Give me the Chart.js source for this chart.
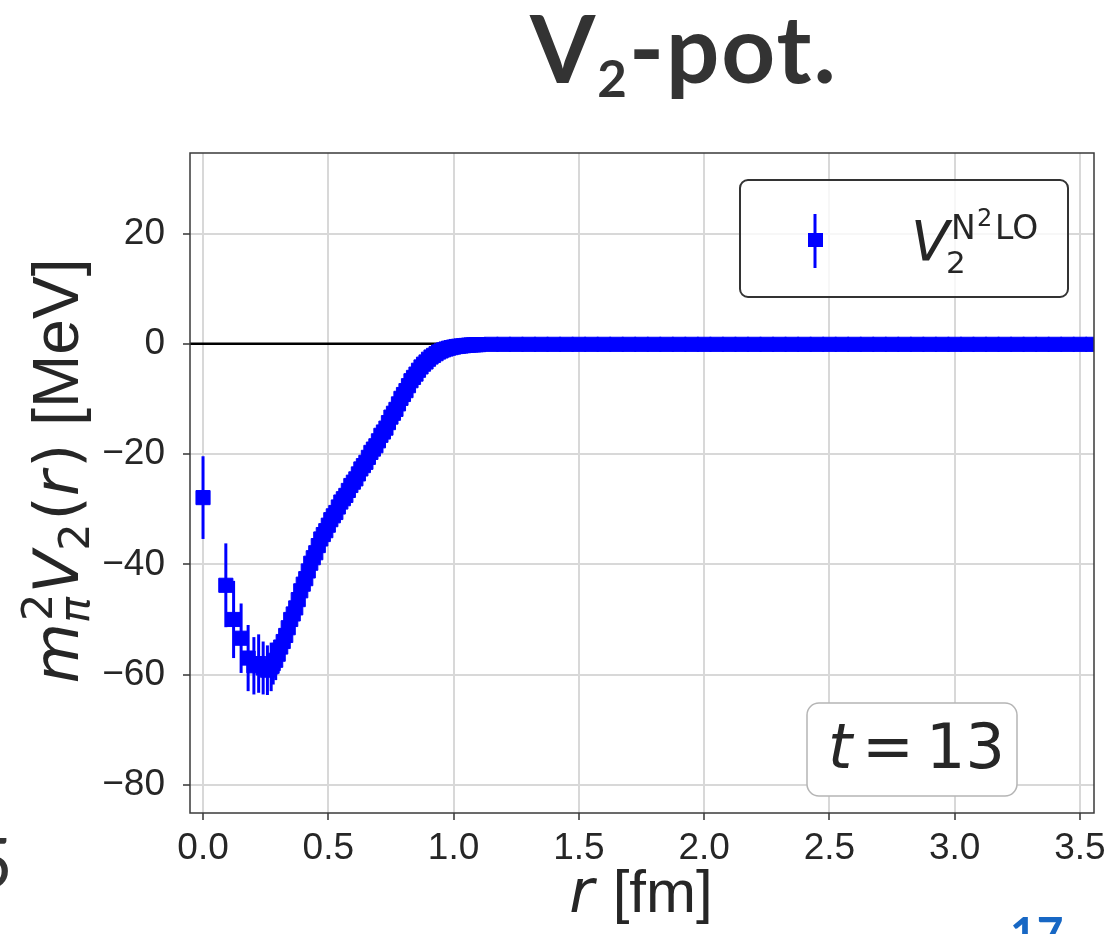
<!DOCTYPE html>
<html>
<head>
<meta charset="utf-8">
<title>V2-pot.</title>
<script src="https://cdn.jsdelivr.net/npm/chart.js@4.4.1/dist/chart.umd.min.js"></script>
<style>
  body { margin: 0; background: #fff; }
  #page { position: relative; width: 1115px; height: 934px; overflow: hidden; }
  #potChart { position: absolute; left: 0; top: 0; }
  #slideTitle { position: absolute; left: 530px; top: 0; font: 700 94px Lato, sans-serif; color: #333; line-height: 1; white-space: nowrap; letter-spacing: 2px; }
  #slideTitle span { font-size: 51px; position: relative; top: 14px; }
  #prevPage { position: absolute; left: -28px; top: 826px; font: 400 70px Lato, sans-serif; color: #333; line-height: 1; }
  #pageNo { position: absolute; left: 1010px; top: 910px; font: 700 46px Lato, sans-serif; color: #1767c4; line-height: 1; }
</style>
</head>
<body>
<div id="page">
  <canvas id="potChart" width="1115" height="934"></canvas>
  <div id="slideTitle">V<span>2</span>-pot.</div>
  <div id="prevPage">5</div>
  <div id="pageNo">17</div>
</div>
<script>
// Axis setup
const xTickValues = [0, 0.5, 1.0, 1.5, 2.0, 2.5, 3.0, 3.5];
const yTickValues = [-80, -60, -40, -20, 0, 20];
const xRange = [-0.052, 3.556];
const yRange = [-85.1, 34.6];

// lattice points near the origin (r [fm], V [MeV], error)
const rNear = [0.000, 0.091, 0.122, 0.152, 0.180, 0.203, 0.222, 0.240, 0.257, 0.272];
const vNear = [-27.9, -43.8, -50.0, -53.4, -57.0, -58.4, -58.0, -58.8, -59.2, -58.6];
const eNear = [7.5, 7.6, 7.0, 6.3, 6.0, 5.2, 5.3, 4.8, 4.5, 4.4];

// dense points along the rising part
const rSlope = [0.28, 0.29, 0.30, 0.31, 0.32, 0.33, 0.34, 0.35, 0.36, 0.37,
    0.38, 0.39, 0.40, 0.41, 0.42, 0.43, 0.44, 0.45, 0.46, 0.47,
    0.48, 0.49, 0.50, 0.51, 0.52, 0.53, 0.54, 0.55, 0.56, 0.57,
    0.58, 0.59, 0.60, 0.61, 0.62, 0.63, 0.64, 0.65, 0.66, 0.67,
    0.68, 0.69, 0.70, 0.71, 0.72, 0.73, 0.74, 0.75, 0.76, 0.77,
    0.78, 0.79, 0.80, 0.81, 0.82, 0.83, 0.84, 0.85, 0.86, 0.87,
    0.88, 0.89, 0.90, 0.91, 0.92, 0.93, 0.94, 0.95, 0.96, 0.97,
    0.98, 0.99, 1.00, 1.01, 1.02, 1.03, 1.04, 1.05, 1.06, 1.07,
    1.08, 1.09, 1.10];
const vSlope = [-58.0, -57.4, -56.3, -55.0, -54.0, -52.9, -51.5, -50.0, -49.0, -47.9,
    -46.4, -44.8, -43.6, -42.6, -41.2, -39.8, -38.8, -37.9, -36.6, -35.4,
    -34.6, -33.9, -32.9, -31.9, -31.2, -30.6, -29.6, -28.7, -28.1, -27.5,
    -26.6, -25.7, -25.1, -24.5, -23.6, -22.7, -22.1, -21.5, -20.6, -19.7,
    -19.1, -18.5, -17.6, -16.6, -16.0, -15.3, -14.3, -13.3, -12.6, -11.9,
    -10.9, -9.9, -9.2, -8.5, -7.6, -6.7, -6.1, -5.5, -4.8, -4.2,
    -3.7, -3.3, -2.8, -2.4, -2.1, -1.8, -1.5, -1.3, -1.1, -0.95,
    -0.8, -0.7, -0.6, -0.5, -0.45, -0.4, -0.35, -0.3, -0.25, -0.22,
    -0.2, -0.17, -0.15];
const eSlope = [3.8, 3.6, 3.5, 3.4, 3.3, 3.3, 3.2, 3.2, 3.1, 3.1,
    3.0, 3.0, 3.0, 2.9, 2.9, 2.8, 2.8, 2.8, 2.7, 2.7,
    2.6, 2.6, 2.6, 2.5, 2.5, 2.5, 2.4, 2.4, 2.4, 2.3,
    2.3, 2.3, 2.2, 2.2, 2.2, 2.1, 2.1, 2.0, 2.0, 2.0,
    1.9, 1.9, 1.9, 1.8, 1.8, 1.7, 1.7, 1.6, 1.6, 1.5,
    1.5, 1.4, 1.4, 1.3, 1.3, 1.2, 1.2, 1.1, 1.1, 1.0,
    1.0, 0.9, 0.9, 0.85, 0.8, 0.75, 0.7, 0.65, 0.6, 0.6,
    0.55, 0.5, 0.5, 0.45, 0.45, 0.4, 0.4, 0.4, 0.35, 0.35,
    0.3, 0.3, 0.3];

// flat tail (runs past the right edge)
const rTail = [1.15, 1.20, 1.25, 1.30, 1.35, 1.40, 1.45, 1.50, 1.55, 1.60,
    1.65, 1.70, 1.75, 1.80, 1.85, 1.90, 1.95, 2.00, 2.05, 2.10,
    2.15, 2.20, 2.25, 2.30, 2.35, 2.40, 2.45, 2.50, 2.55, 2.60,
    2.65, 2.70, 2.75, 2.80, 2.85, 2.90, 2.95, 3.00, 3.05, 3.10,
    3.15, 3.20, 3.25, 3.30, 3.35, 3.40, 3.45, 3.50, 3.55, 3.60];
const vTail = [-0.1, -0.1, -0.1, -0.1, -0.1, -0.1, -0.1, -0.1, -0.1, -0.1,
    -0.1, -0.1, -0.1, -0.1, -0.1, -0.1, -0.1, -0.1, -0.1, -0.1,
    -0.1, -0.1, -0.1, -0.1, -0.1, -0.1, -0.1, -0.1, -0.1, -0.1,
    -0.1, -0.1, -0.1, -0.1, -0.1, -0.1, -0.1, -0.1, -0.1, -0.1,
    -0.1, -0.1, -0.1, -0.1, -0.1, -0.1, -0.1, -0.1, -0.1, -0.1];
const eTail = [0.3, 0.3, 0.3, 0.3, 0.3, 0.3, 0.3, 0.3, 0.3, 0.3,
    0.3, 0.3, 0.3, 0.3, 0.3, 0.3, 0.3, 0.3, 0.3, 0.3,
    0.3, 0.3, 0.3, 0.3, 0.3, 0.3, 0.3, 0.3, 0.3, 0.3,
    0.3, 0.3, 0.3, 0.3, 0.3, 0.3, 0.3, 0.3, 0.3, 0.3,
    0.3, 0.3, 0.3, 0.3, 0.3, 0.3, 0.3, 0.3, 0.3, 0.3];

const rAll = rNear.concat(rSlope, rTail);
const vAll = vNear.concat(vSlope, vTail);
const eAll = eNear.concat(eSlope, eTail);

const BLUE = '#0000ff';
const rm = size => size + 'px "Liberation Sans", Arial, sans-serif';
const dv = size => size + 'px "DejaVu Sans", sans-serif';
const dvIt = size => 'italic ' + size + 'px "DejaVu Sans", sans-serif';

// draw a run of text pieces (for sub/superscripts)
function runWidth(ctx, parts) {
    let w = 0;
    parts.forEach(p => {
        ctx.font = p.font;
        if (!p.hold) w += ctx.measureText(p.text).width + (p.dx || 0);
    });
    return w;
}
function drawRun(ctx, x, y, parts) {
    let cx = x;
    parts.forEach(p => {
        ctx.font = p.font;
        ctx.fillText(p.text, cx + (p.dx || 0), y + (p.dy || 0));
        if (!p.hold) cx += ctx.measureText(p.text).width + (p.dx || 0);
    });
}

const errorBarPlugin = {
    id: 'errorBars',
    afterDatasetsDraw(chart) {
        const { ctx, chartArea, scales: { x, y } } = chart;
        ctx.save();
        ctx.beginPath();
        ctx.rect(chartArea.left, chartArea.top, chartArea.width, chartArea.height);
        ctx.clip();
        ctx.strokeStyle = BLUE;
        ctx.lineWidth = 3;
        rAll.forEach((r, i) => {
            const px = x.getPixelForValue(r);
            ctx.beginPath();
            ctx.moveTo(px, y.getPixelForValue(vAll[i] - eAll[i]));
            ctx.lineTo(px, y.getPixelForValue(vAll[i] + eAll[i]));
            ctx.stroke();
        });
        ctx.restore();
    }
};

const decorPlugin = {
    id: 'decor',
    afterDraw(chart) {
        const { ctx, chartArea: ca } = chart;
        ctx.save();
        // frame
        ctx.strokeStyle = '#3a3a3a';
        ctx.lineWidth = 1.5;
        ctx.strokeRect(ca.left, ca.top, ca.width, ca.height);

        ctx.fillStyle = '#262626';
        ctx.textAlign = 'left';
        ctx.textBaseline = 'alphabetic';

        // y axis title
        const yParts = [
            { text: 'm', font: dvIt(62) },
            { text: '2', font: dv(43), dy: -26, dx: 2, hold: true },
            { text: 'π', font: dvIt(43), dy: 11 },
            { text: 'V', font: dvIt(62), dx: 4 },
            { text: '2', font: dv(43), dy: 11 },
            { text: '(', font: dv(62), dx: 3 },
            { text: 'r', font: dvIt(62) },
            { text: ')', font: dv(62), dx: 3 },
            { text: ' [MeV]', font: rm(64) }
        ];
        ctx.save();
        ctx.translate(78, 471);
        ctx.rotate(-Math.PI / 2);
        drawRun(ctx, -runWidth(ctx, yParts) / 2, 0, yParts);
        ctx.restore();

        // x axis title
        const xParts = [
            { text: 'r', font: dvIt(60) },
            { text: ' [fm]', font: rm(60), dx: 2 }
        ];
        drawRun(ctx, 641 - runWidth(ctx, xParts) / 2, 912, xParts);

        // legend box
        ctx.beginPath();
        ctx.roundRect(740, 180, 328, 117, 8);
        ctx.fillStyle = 'rgba(255,255,255,0.8)';
        ctx.fill();
        ctx.strokeStyle = '#333';
        ctx.lineWidth = 2;
        ctx.stroke();
        ctx.strokeStyle = BLUE;
        ctx.lineWidth = 3;
        ctx.beginPath();
        ctx.moveTo(815, 214);
        ctx.lineTo(815, 268);
        ctx.stroke();
        ctx.fillStyle = BLUE;
        ctx.fillRect(808, 233, 15, 14);
        ctx.fillStyle = '#262626';
        ctx.font = dvIt(56); ctx.fillText('V', 911, 260);
        ctx.font = dv(31); ctx.fillText('2', 946, 273);
        ctx.font = dv(33); ctx.fillText('N', 951, 239);
        ctx.font = dv(24); ctx.fillText('2', 977, 226);
        ctx.font = dv(33); ctx.fillText('LO', 995, 239);

        // t = 13 box
        ctx.beginPath();
        ctx.roundRect(807, 703, 210, 93, 12);
        ctx.fillStyle = '#fff';
        ctx.fill();
        ctx.strokeStyle = '#b5b5b5';
        ctx.lineWidth = 1.5;
        ctx.stroke();
        ctx.fillStyle = '#262626';
        ctx.font = dvIt(62); ctx.fillText('t', 828, 768);
        ctx.font = dv(62); ctx.fillText('=', 862, 768);
        ctx.fillText('13', 926, 768);
        ctx.restore();
    }
};

const potCtx = document.getElementById('potChart').getContext('2d');
const potChart = new Chart(potCtx, {
    type: 'scatter',
    data: {
        datasets: [
            {
                type: 'line',
                label: 'zero',
                data: [{ x: xRange[0], y: 0 }, { x: xRange[1], y: 0 }],
                borderColor: '#000',
                borderWidth: 2.5,
                pointRadius: 0,
                order: 2,
                clip: 0
            },
            {
                label: 'V2 N2LO',
                data: rAll.map((r, i) => ({ x: r, y: vAll[i] })),
                pointStyle: 'rect',
                pointRadius: 10,
                pointHoverRadius: 10,
                backgroundColor: BLUE,
                borderColor: BLUE,
                borderWidth: 1,
                order: 1,
                clip: 0
            }
        ]
    },
    options: {
        responsive: false,
        animation: false,
        devicePixelRatio: 1,
        events: [],
        layout: { padding: { top: 153, right: 21, left: 0, bottom: 0 } },
        plugins: {
            legend: { display: false },
            tooltip: { enabled: false }
        },
        scales: {
            x: {
                type: 'linear',
                min: xRange[0],
                max: xRange[1],
                afterBuildTicks: scale => { scale.ticks = xTickValues.map(v => ({ value: v })); },
                afterFit: scale => { scale.height = 121; scale.paddingLeft = 0; scale.paddingRight = 0; },
                ticks: {
                    font: { family: '"Liberation Sans", Arial, sans-serif', size: 37 },
                    color: '#262626',
                    padding: 7,
                    maxRotation: 0,
                    autoSkip: false,
                    callback: v => v.toFixed(1)
                },
                grid: { color: '#d8d8d8', lineWidth: 2, tickColor: '#333', tickLength: 7, tickWidth: 1.5 },
                border: { display: false }
            },
            y: {
                type: 'linear',
                min: yRange[0],
                max: yRange[1],
                afterBuildTicks: scale => { scale.ticks = yTickValues.map(v => ({ value: v })); },
                afterFit: scale => { scale.width = 190; scale.paddingTop = 0; scale.paddingBottom = 0; },
                ticks: {
                    font: { family: '"Liberation Sans", Arial, sans-serif', size: 37 },
                    color: '#262626',
                    padding: 18,
                    autoSkip: false,
                    callback: v => String(v).replace('-', '\u2212')
                },
                grid: { color: '#d8d8d8', lineWidth: 2, tickColor: '#333', tickLength: 7, tickWidth: 1.5 },
                border: { display: false }
            }
        }
    },
    plugins: [errorBarPlugin, decorPlugin]
});
</script>
</body>
</html>
